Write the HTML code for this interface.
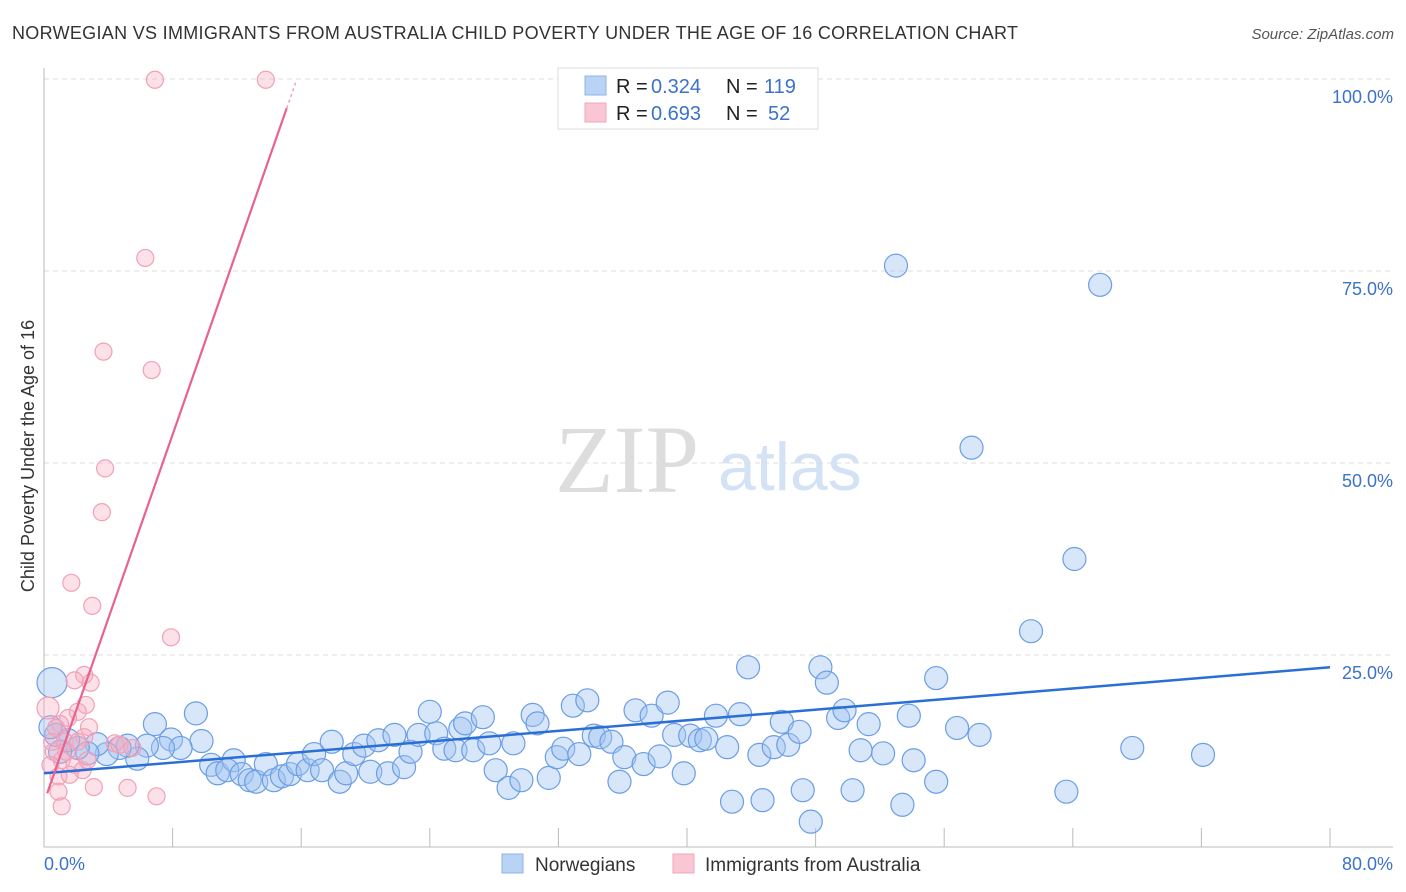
<!DOCTYPE html>
<html><head><meta charset="utf-8"><style>
body{margin:0;background:#fff;font-family:"Liberation Sans",sans-serif;}
#wrap{position:relative;width:1406px;height:892px;overflow:hidden;}
</style></head><body>
<div id="wrap">
<svg id="svg" width="1406" height="892" xmlns="http://www.w3.org/2000/svg">
<text x="12" y="39" font-size="18" fill="#333" textLength="1006" lengthAdjust="spacing">NORWEGIAN VS IMMIGRANTS FROM AUSTRALIA CHILD POVERTY UNDER THE AGE OF 16 CORRELATION CHART</text>
<text x="1394" y="39" font-size="15" fill="#555" font-style="italic" text-anchor="end">Source: ZipAtlas.com</text>
<text x="0" y="0" transform="translate(34,456) rotate(-90)" font-size="18" fill="#333" text-anchor="middle">Child Poverty Under the Age of 16</text>
<text x="555" y="492" font-size="96" fill="#ddd" font-family="Liberation Serif,serif">ZIP</text>
<text x="718" y="490" font-size="68" fill="#d4e2f5">atlas</text>
<g id="grid"></g><g id="axes"></g><g id="pts"></g><g id="lines"></g>
<g>
<rect x="558" y="68" width="260" height="61" fill="#fff" stroke="#ddd"/>
<rect x="585" y="76" width="21" height="19" fill="#b9d3f5" stroke="#8fb3e6"/>
<rect x="585" y="103" width="21" height="19" fill="#f9c6d4" stroke="#f0a6bb"/>
<g font-size="20">
<text x="616" y="93" fill="#222">R =</text><text x="651" y="93" fill="#3a72cc">0.324</text>
<text x="726" y="93" fill="#222">N =</text><text x="764" y="93" fill="#3a72cc">119</text></g>
<g font-size="20">
<text x="616" y="120" fill="#222">R =</text><text x="651" y="120" fill="#3a72cc">0.693</text>
<text x="726" y="120" fill="#222">N =</text><text x="768" y="120" fill="#3a72cc">52</text></g>
</g>
<g>
<rect x="502" y="854" width="21" height="19" fill="#b9d3f5" stroke="#8fb3e6"/>
<text x="535" y="871" font-size="19" fill="#333">Norwegians</text>
<rect x="673" y="854" width="21" height="19" fill="#f9c6d4" stroke="#f0a6bb"/>
<text x="705" y="871" font-size="19" fill="#333">Immigrants from Australia</text>
</g>
</svg>
</div>
<script>
const xTicks=[0,8,16,24,32,40,48,56,64,72,80];
const yTicks=[25,50,75,100];
const yTickLabels=["25.0%","50.0%","75.0%","100.0%"];
const xEndLabels=["0.0%","80.0%"];
const blueX=[9.45,6.9,7.9,9.8,8.5,7.4,6.4,5.8,5.2,4.7,3.9,3.3,2.7,2.1,1.5,1.0,0.75,0.4,10.4,10.8,11.8,11.4,12.3,12.8,13.2,13.8,14.3,14.8,15.3,15.8,16.4,16.8,17.3,17.9,18.4,18.8,19.3,19.9,20.3,20.8,21.4,21.8,22.4,22.8,23.3,24.0,24.4,24.9,25.6,25.9,26.2,26.7,27.3,27.7,28.1,28.9,29.2,29.7,30.4,30.7,31.4,31.9,32.3,32.9,33.3,33.8,34.2,34.6,35.3,35.8,36.1,36.8,37.3,37.8,38.3,38.8,39.2,39.8,40.2,40.8,41.2,41.8,42.5,42.8,43.3,43.8,44.5,44.7,45.4,45.9,46.3,47.0,47.2,47.7,48.3,48.7,49.4,49.8,50.3,50.8,51.3,52.2,53.4,53.8,54.1,55.5,55.5,56.8,58.2,53.0,65.7,57.7,64.1,61.4,63.6,67.7,72.1];
const blueY=[17.4,16.0,14.0,13.8,12.9,12.9,13.2,11.5,13.2,12.9,12.1,13.4,12.2,12.9,13.9,12.4,14.6,15.6,10.7,9.6,11.3,10.0,9.5,8.7,8.5,10.8,8.7,9.2,9.5,10.8,10.0,12.1,10.0,13.7,8.5,9.6,12.1,13.2,9.8,13.9,9.6,14.6,10.4,12.4,14.6,17.6,14.8,12.8,12.6,15.4,16.1,12.6,16.9,13.5,10.0,7.7,13.5,8.7,17.2,16.1,9.0,11.7,12.8,18.4,12.1,19.1,14.5,14.3,13.7,8.5,11.7,17.8,10.8,17.1,11.8,18.8,14.6,9.6,14.5,13.9,14.1,17.1,13.0,5.9,17.3,23.4,12.0,6.1,13.0,16.3,13.3,15.0,7.4,3.3,23.4,21.4,16.8,17.8,7.4,12.6,16.0,12.2,5.5,17.1,11.3,8.5,22.0,15.5,14.6,75.7,73.2,52.0,37.5,28.1,7.2,12.9,12.0];
const bigBlue=[0.5,21.4];
const pinkX=[6.9,13.8,6.3,3.7,6.7,3.8,3.6,1.7,3.0,7.9,2.5,1.9,2.9,2.6,2.1,1.5,2.8,1.0,0.75,1.3,2.5,0.6,1.1,1.9,2.4,0.4,0.9,1.6,4.4,4.7,5.5,3.1,5.2,7.0,0.9,1.1,2.1,0.5,1.4,2.7];
const pinkY=[99.9,99.9,76.7,64.5,62.1,49.3,43.6,34.4,31.4,27.3,22.4,21.7,21.4,18.5,17.6,16.8,15.6,16.0,15.5,13.7,14.3,12.4,11.3,10.7,10.0,10.7,9.2,9.4,13.5,13.3,12.9,7.8,7.7,6.6,7.2,5.3,13.7,13.7,12.4,11.3];
const bigPink=[0.25,18.1];
const blueTrend=[9.6,23.4];
const pinkTrend=[0.2,7.0,15.1,96.2,15.7,99.8];
const NS="http://www.w3.org/2000/svg";
const X=v=>44+v*16.075, Y=v=>847-v*7.68;
function mk(t,a,p){const e=document.createElementNS(NS,t);for(const k in a)e.setAttribute(k,a[k]);p.appendChild(e);return e;}
const grid=document.getElementById('grid'),axes=document.getElementById('axes'),pts=document.getElementById('pts'),lines=document.getElementById('lines');
yTicks.forEach((t,i)=>{
 const l=mk('line',{x1:44,x2:1393,y1:Y(t),y2:Y(t),stroke:'#ddd','stroke-dasharray':'5,4'},grid);
 
 
 const tx=mk('text',{x:1393,y:Y(t)+24,'font-size':18,fill:'#3a72cc','text-anchor':'end'},axes);
 tx.textContent=yTickLabels[i];
 
 
});
let a=mk('line',{x1:44,x2:44,y1:68,y2:847,stroke:'#bbb'},axes);


a=mk('line',{x1:44,x2:1393,y1:847,y2:847,stroke:'#bbb'},axes);


xTicks.forEach(t=>{
 const l=mk('line',{x1:X(t),x2:X(t),y1:828,y2:847,stroke:'#bbb'},axes);
 
 
});
let t0=mk('text',{x:44,y:870,'font-size':18,fill:'#3a72cc'},axes);t0.textContent=xEndLabels[0];


t0=mk('text',{x:1393,y:870,'font-size':18,fill:'#3a72cc','text-anchor':'end'},axes);t0.textContent=xEndLabels[1];


function dot(x,y,r,c){
 return mk('circle',{cx:X(x),cy:Y(y),r:r,fill:c?'rgba(246,170,192,0.35)':'rgba(160,196,240,0.42)',stroke:c?'#f2a0b8':'#6b9ee6','stroke-width':1.2},pts);
}
blueX.forEach((x,i)=>{const e=dot(x,blueY[i],11.5,0);
 
 });
let e=dot(bigBlue[0],bigBlue[1],15,0);


pinkX.forEach((x,i)=>{const p=dot(x,pinkY[i],8.5,1);
 
 });
e=dot(bigPink[0],bigPink[1],11,1);


let L=mk('line',{x1:X(0),y1:Y(blueTrend[0]),x2:X(80),y2:Y(blueTrend[1]),stroke:'#2a6fd6','stroke-width':2.5},lines);


L=mk('line',{x1:X(pinkTrend[0]),y1:Y(pinkTrend[1]),x2:X(pinkTrend[2]),y2:Y(pinkTrend[3]),stroke:'#e8628e','stroke-width':2.2},lines);


L=mk('line',{x1:X(pinkTrend[2]),y1:Y(pinkTrend[3]),x2:X(pinkTrend[4]),y2:Y(pinkTrend[5]),stroke:'#f0a0b8','stroke-width':1.5,'stroke-dasharray':'3,3'},lines);


</script>
</body></html>
